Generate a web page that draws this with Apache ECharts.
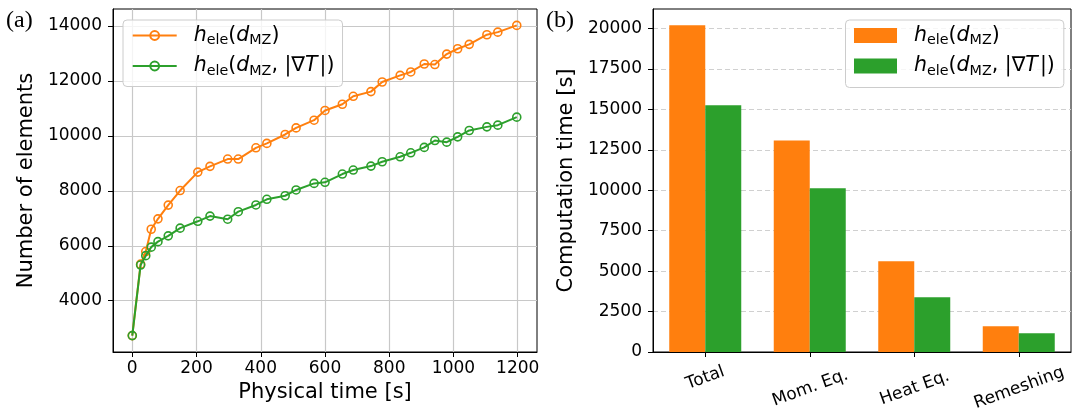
<!DOCTYPE html>
<html><head><meta charset="utf-8">
<script src="https://cdn.jsdelivr.net/npm/echarts@6/dist/echarts.min.js"></script>
<style>html,body{margin:0;padding:0;background:#fff}#c{width:1074px;height:408px}</style>
</head><body><div id="c"></div>
<script>
// ---- data (a): number of elements vs physical time ----
const times = [0, 26, 42, 59, 80, 112, 149, 204, 242, 297, 330, 385, 419, 476, 510, 566, 600, 654, 688, 743, 778, 834, 867, 909, 942, 979, 1013, 1049, 1104, 1138, 1197];
const elemsDMZ = [2730, 5330, 5790, 6600, 6980, 7480, 8010, 8680, 8890, 9155, 9155, 9565, 9725, 10050, 10290, 10570, 10925, 11150, 11440, 11610, 11960, 12200, 12325, 12615, 12595, 12975, 13170, 13330, 13680, 13775, 14020];
const elemsDMZGrad = [2730, 5300, 5640, 5950, 6150, 6360, 6640, 6890, 7080, 6966, 7240, 7485, 7690, 7820, 8030, 8270, 8310, 8610, 8755, 8900, 9057, 9238, 9383, 9579, 9830, 9770, 9964, 10195, 10327, 10389, 10680];
const timeTicks = [0, 200, 400, 600, 800, 1000, 1200];
const elemTicks = [4000, 6000, 8000, 10000, 12000, 14000];

// ---- data (b): computation time per part ----
const categories = ['Total', 'Mom. Eq.', 'Heat Eq.', 'Remeshing'];
const compDMZ = [20190, 13080, 5610, 1590];
const compDMZGrad = [15250, 10120, 3385, 1160];
const compTicks = [0, 2500, 5000, 7500, 10000, 12500, 15000, 17500, 20000];

const FONT = 'DejaVu Sans';
const ORANGE = '#ff7f0e', GREEN = '#2ca02c';
const rich = {
  i0: {fontFamily: FONT, fontSize: 20.5, fontStyle: 'italic', lineHeight: 24, color: '#000', padding: [0, 0, 0, 12]},
  i: {fontFamily: FONT, fontSize: 20.5, fontStyle: 'italic', lineHeight: 24, color: '#000'},
  n: {fontFamily: FONT, fontSize: 20.5, lineHeight: 24, color: '#000'},
  s: {fontFamily: FONT, fontSize: 14.3, lineHeight: 13, verticalAlign: 'bottom', color: '#000'}
};
const labelText = {
  ndofA: '{i0|h}{s|ele}{n|(}{i|d}{s|MZ}{n|)}',
  ndofB: '{i0|h}{s|ele}{n|(}{i|d}{s|MZ}{n|, |∇}{i|T}{n|\u200a|)}',
  timeA: '{i0|h}{s|ele}{n|(}{i|d}{s|MZ}{n|)}',
  timeB: '{i0|h}{s|ele}{n|(}{i|d}{s|MZ}{n|, |∇}{i|T}{n|\u200a|)}'
};

const tickLabel = {fontFamily: FONT, fontSize: 17, color: '#000'};
const nameStyle = {fontFamily: FONT, fontSize: 21, color: '#000'};

const chart = echarts.init(document.getElementById('c'), null, {renderer: 'canvas'});
chart.setOption({
  animation: false,
  backgroundColor: '#fff',
  graphic: [
    {type: 'text', left: 6, top: 9, style: {text: '(a)', font: '24px "Liberation Serif"', fill: '#000'}},
    {type: 'text', left: 546, top: 9, style: {text: '(b)', font: '24px "Liberation Serif"', fill: '#000'}}
  ],
  grid: [
    {left: 113, top: 9, width: 424, height: 343, show: true, borderColor: '#000', borderWidth: 1, backgroundColor: 'transparent', containLabel: false, outerBoundsMode: 'none'},
    {left: 653, top: 9, width: 418, height: 343, show: true, borderColor: '#000', borderWidth: 1, backgroundColor: 'transparent', containLabel: false, outerBoundsMode: 'none'}
  ],
  legend: [
    {
      data: ['ndofA', 'ndofB'], orient: 'vertical', left: 123, top: 20,
      itemWidth: 44, itemHeight: 11, itemGap: 8, padding: [5, 8, 8.5, 8.7],
      backgroundColor: 'rgba(255,255,255,0.8)', borderColor: '#cccccc', borderWidth: 1, borderRadius: 4,
      selectedMode: false, formatter: n => labelText[n], textStyle: {rich: rich}
    },
    {
      data: ['timeA', 'timeB'], orient: 'vertical', left: 845.5, top: 20, icon: 'rect',
      itemWidth: 43, itemHeight: 15, itemGap: 8, padding: [5, 9, 9.5, 8.5],
      backgroundColor: 'rgba(255,255,255,0.8)', borderColor: '#cccccc', borderWidth: 1, borderRadius: 4,
      selectedMode: false, formatter: n => labelText[n], textStyle: {rich: rich}
    }
  ],
  xAxis: [
    {
      type: 'value', gridIndex: 0, min: -60, max: 1260,
      name: 'Physical time [s]', nameLocation: 'middle', nameGap: 29, nameTextStyle: nameStyle,
      axisLine: {show: true, onZero: false, lineStyle: {color: '#000'}},
      axisTick: {show: true, inside: false, length: 5, customValues: timeTicks, lineStyle: {color: '#000'}},
      axisLabel: {customValues: timeTicks, margin: 8, formatter: v => String(v), ...tickLabel},
      splitLine: {show: true, lineStyle: {color: '#c8c8c8', width: 1.2}}
    },
    {
      type: 'category', gridIndex: 1, data: categories,
      axisLine: {show: true, lineStyle: {color: '#000'}},
      axisTick: {show: true, alignWithLabel: true, length: 5, lineStyle: {color: '#000'}},
      axisLabel: {
        rotate: 20, align: 'center', verticalAlign: 'middle', margin: 26, interval: 0,
        formatter: (v, i) => i === 0 ? '{a|' + v + '}' : '{b|' + v + '}',
        rich: {
          a: {fontFamily: FONT, fontSize: 17, color: '#000'},
          b: {fontFamily: FONT, fontSize: 17, color: '#000', padding: [19, 6, 0, 0]}
        }
      },
      splitLine: {show: false}
    }
  ],
  yAxis: [
    {
      type: 'value', gridIndex: 0, min: 2133, max: 14617,
      name: 'Number of elements', nameLocation: 'middle', nameGap: 76, nameTextStyle: nameStyle,
      axisLine: {show: true, onZero: false, lineStyle: {color: '#000'}},
      axisTick: {show: true, length: 5, customValues: elemTicks, lineStyle: {color: '#000'}},
      axisLabel: {customValues: elemTicks, margin: 11, formatter: v => String(v), ...tickLabel},
      splitLine: {show: true, lineStyle: {color: '#c8c8c8', width: 1.2}}
    },
    {
      type: 'value', gridIndex: 1, min: 0, max: 21200,
      name: 'Computation time [s]', nameLocation: 'middle', nameGap: 76, nameTextStyle: nameStyle,
      axisLine: {show: true, onZero: false, lineStyle: {color: '#000'}},
      axisTick: {show: true, length: 5, customValues: compTicks, lineStyle: {color: '#000'}},
      axisLabel: {customValues: compTicks, margin: 11, formatter: v => String(v), ...tickLabel},
      splitLine: {show: true, lineStyle: {color: '#d0d0d0', width: 1.2, type: [5, 3]}}
    }
  ],
  series: [
    {
      name: 'ndofA', type: 'line', xAxisIndex: 0, yAxisIndex: 0,
      data: times.map((t, i) => [t, elemsDMZ[i]]),
      symbol: 'circle', symbolSize: 8, showAllSymbol: true,
      itemStyle: {color: 'rgba(255,255,255,0)', borderColor: ORANGE, borderWidth: 1.6},
      lineStyle: {color: ORANGE, width: 2}, z: 3
    },
    {
      name: 'ndofB', type: 'line', xAxisIndex: 0, yAxisIndex: 0,
      data: times.map((t, i) => [t, elemsDMZGrad[i]]),
      symbol: 'circle', symbolSize: 8, showAllSymbol: true,
      itemStyle: {color: 'rgba(255,255,255,0)', borderColor: GREEN, borderWidth: 1.6},
      lineStyle: {color: GREEN, width: 2}, z: 4
    },
    {
      name: 'timeA', type: 'bar', xAxisIndex: 1, yAxisIndex: 1,
      data: compDMZ, barWidth: 36, barGap: '0%', itemStyle: {color: ORANGE}
    },
    {
      name: 'timeB', type: 'bar', xAxisIndex: 1, yAxisIndex: 1,
      data: compDMZGrad, barWidth: 36, barGap: '0%', itemStyle: {color: GREEN}
    }
  ]
});
</script></body></html>
